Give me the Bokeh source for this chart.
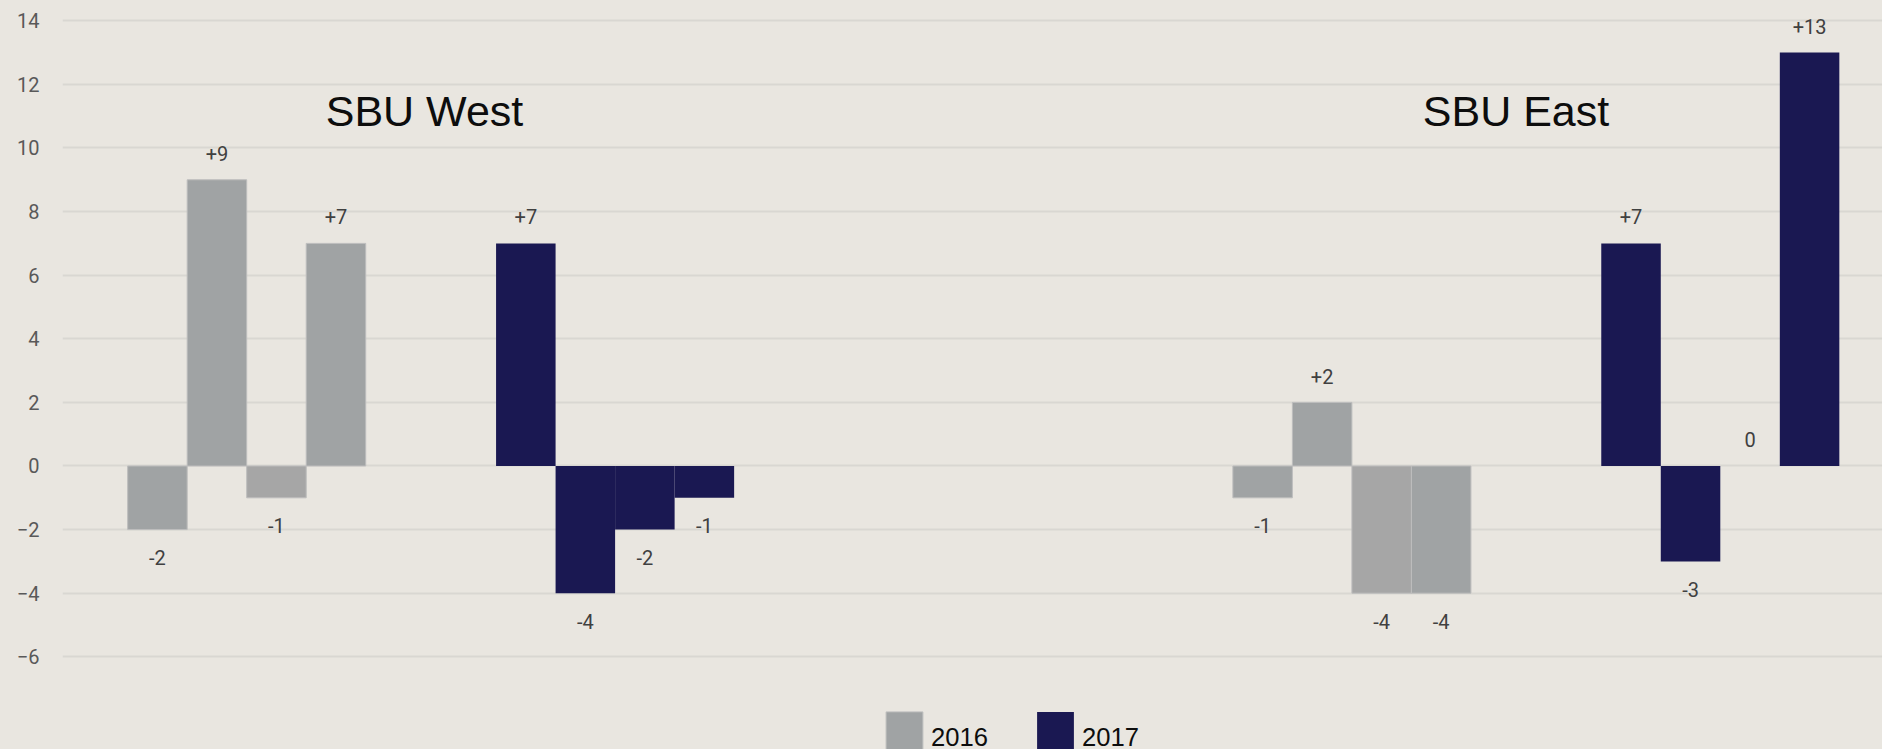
from bokeh.plotting import figure
from bokeh.models import ColumnDataSource, Range1d, Label, Legend, LegendItem, FixedTicker
from bokeh.embed import file_html
from bokeh.resources import INLINE
from bokeh.core.properties import value

# ---------------- data ----------------
groups = ["SBU West", "SBU East"]
years = ["2016", "2017"]
# category slot of each cluster (slot 2 is an empty category between the two SBUs)
cluster_slots = {"SBU West": {"2016": 0, "2017": 1}, "SBU East": {"2016": 3, "2017": 4}}
west_2016 = [-2, 9, -1, 7]
west_2017 = [7, -4, -2, -1]
east_2016 = [-1, 2, -4, -4]
east_2017 = [7, -3, 0, 13]
y_ticks = [-6, -4, -2, 0, 2, 4, 6, 8, 10, 12, 14]
series_values = {("SBU West", "2016"): west_2016, ("SBU West", "2017"): west_2017,
                 ("SBU East", "2016"): east_2016, ("SBU East", "2017"): east_2017}

# ---------------- styling ----------------
BG = "#E9E6E0"
GRAY = ["#A0A3A4", "#A0A3A4", "#A6A6A6", "#A0A3A4"]
NAVY = "#1A1852"
W, H = 1882, 749
LEFT = 62
CAT_PX = 368.4
n_series = 4
bar_w = 1.0 / (n_series + 2.19)

def build(year):
    xs, tops, cols, labs, ly = [], [], [], [], []
    for g in groups:
        vals = series_values[(g, year)]
        c = cluster_slots[g][year] + 0.5
        for i, v in enumerate(vals):
            xs.append(c + (i - (n_series - 1) / 2) * bar_w)
            tops.append(v)
            cols.append(GRAY[i] if year == "2016" else NAVY)
            labs.append(("+%d" % v) if v > 0 else str(v))
            ly.append(v + 0.83 if v >= 0 else v - 0.88)
    return ColumnDataSource(dict(x=xs, top=tops, color=cols, label=labs, ly=ly))

p = figure(width=W, height=H, output_backend="svg", toolbar_location=None,
           x_axis_location=None,
           x_range=Range1d(0, (W - LEFT) / CAT_PX),
           y_range=Range1d(-8.915, 14.638),
           background_fill_color=BG, border_fill_color=BG,
           min_border_left=LEFT, min_border_right=0, min_border_top=0, min_border_bottom=0)
p.styles = {"background-color": BG}
p.outline_line_color = None
p.xgrid.visible = False
p.ygrid.ticker = FixedTicker(ticks=y_ticks)
p.ygrid.grid_line_color = "#D9D7D2"
p.ygrid.grid_line_width = 2

ax = p.yaxis[0]
ax.ticker = FixedTicker(ticks=y_ticks)
ax.axis_line_color = None
ax.major_tick_line_color = None
ax.minor_tick_line_color = None
ax.major_tick_out = 0
ax.major_tick_in = 0
ax.major_label_standoff = 23
ax.major_label_text_font = "Roboto"
ax.major_label_text_font_size = "20px"
ax.major_label_text_color = "#595959"

renderers = {}
for year in years:
    src = build(year)
    lc = "#BDBDBD" if year == "2016" else None
    r = p.vbar(x="x", top="top", bottom=0, width=bar_w, source=src,
               fill_color="color", line_color=lc, line_width=1)
    renderers[year] = r
    p.text(x="x", y="ly", text="label", source=src, text_align="center",
           text_baseline="middle", text_font=value("Roboto"), text_font_size="20px",
           text_color="#404040")

for name, xc in [("SBU West", (424 - LEFT) / CAT_PX), ("SBU East", (1515.5 - LEFT) / CAT_PX)]:
    p.add_layout(Label(x=xc, y=11.17, text=name, text_align="center",
                       text_baseline="alphabetic", text_font="Liberation Sans",
                       text_font_size="43px", text_color="#0D0D0D"))

legend = Legend(items=[LegendItem(label=y, renderers=[renderers[y]], index=0) for y in years],
                orientation="horizontal", location=(881 - LEFT, -20),
                glyph_width=46, glyph_height=64, label_standoff=4, spacing=44,
                padding=0, margin=0, border_line_color=None, background_fill_alpha=0,
                label_text_font="Liberation Sans", label_text_font_size="25.6px",
                label_text_color="#0D0D0D")
p.add_layout(legend, "center")

open("out.html", "w").write(file_html(p, INLINE))
